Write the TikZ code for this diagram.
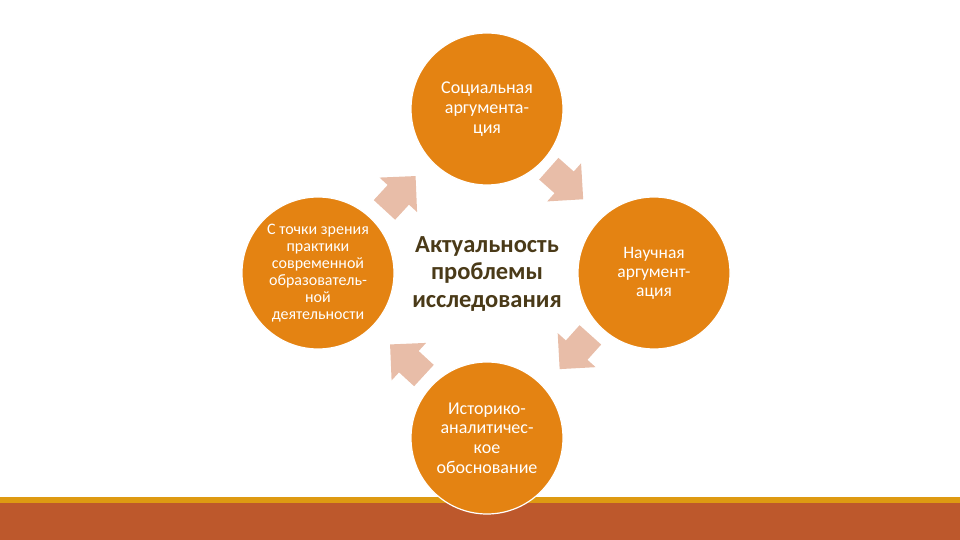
\documentclass[tikz,border=0pt]{standalone}
\usepackage{fontspec}
\setmainfont{Carlito}
\definecolor{circ}{HTML}{E48312}
\definecolor{arr}{HTML}{E8BDA8}
\definecolor{band}{HTML}{BD582C}
\definecolor{gold}{HTML}{DE9A12}
\definecolor{ctext}{HTML}{4A3A18}
\begin{document}
\begin{tikzpicture}[x=1pt,y=1pt,
  sat/.style={circle, fill=circ, draw=white, line width=1.2pt, minimum size=152pt,
    inner sep=0pt, text=white, align=center},
  blockarrow/.style={fill=arr},
  ctr/.style={text=ctext, align=center, font=\bfseries\fontsize{24.5}{27.5}\selectfont}]
\useasboundingbox (0,0) rectangle (960,540);
% bottom band
\fill[band] (0,0) rectangle (960,37);
\fill[gold] (0,37) rectangle (960,42.5);
% satellites
\node[sat, font=\fontsize{18}{20}\selectfont] (top) at (487,431) {Социальная\\аргумента-\\ция};
\node[sat, font=\fontsize{16}{17}\selectfont] (left) at (318,267) {С точки зрения\\практики\\современной\\образователь-\\ной\\деятельности};
\node[sat, font=\fontsize{17.5}{19}\selectfont] (right) at (654,267) {Научная\\аргумент-\\ация};
\node[sat, font=\fontsize{18}{19.7}\selectfont] (bottom) at (487,102) {Историко-\\аналитичес-\\кое\\обоснование};
% centre
\node[ctr] (centre) at (487,266) {Актуальность\\проблемы\\исследования};
% block arrows
\foreach \cx/\cy/\ang/\nm in {400/347/47.4/arTL, 566/356/-41.6/arTR, 575/188/-131.9/arBR, 407/180/137.4/arBL}{
  \coordinate (\nm) at (\cx,\cy);
  \fill[blockarrow, shift={(\nm)}, rotate=\ang]
    (-23,-14.5) -- (-2.5,-14.5) -- (-2.5,-25.5) -- (23,0) -- (-2.5,25.5) -- (-2.5,14.5) -- (-23,14.5) -- cycle;
}
\end{tikzpicture}
\end{document}
